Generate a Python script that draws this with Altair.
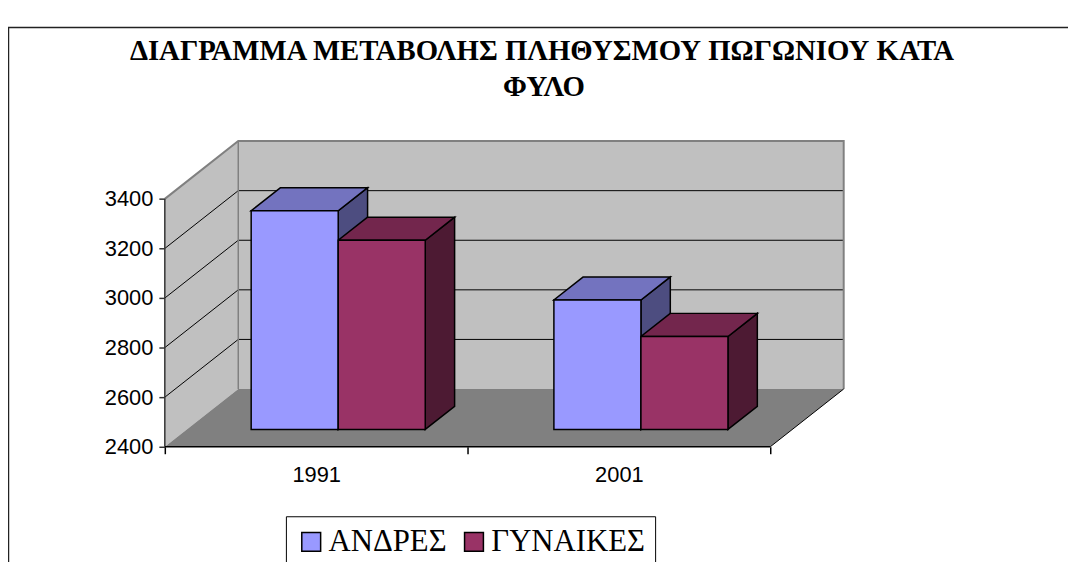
import altair as alt
import pandas as pd

# ---------------- data ----------------
years = ["1991", "2001"]
series = ["ΑΝΔΡΕΣ", "ΓΥΝΑΙΚΕΣ"]
men = [3282, 2922]
women = [3163, 2775]
y_ticks = [2400, 2600, 2800, 3000, 3200, 3400]
title_lines = ["ΔΙΑΓΡΑΜΜΑ ΜΕΤΑΒΟΛΗΣ ΠΛΗΘΥΣΜΟΥ ΠΩΓΩΝΙΟΥ ΚΑΤΑ", "ΦΥΛΟ"]

front_colors = ["#9999FF", "#993366"]
top_colors = ["#7373BF", "#73264D"]
side_colors = ["#4D4D80", "#4D1A33"]

# ---------------- 3-D style constants ----------------
Y_MIN, Y_MAX = y_ticks[0], y_ticks[-1]
DX = 0.2426      # depth shift, x units (categories)
DY = 233         # depth shift, value units
D0, D1 = 0.3, 0.7
GROUP = 0.575
BAR = GROUP / 2
NCAT = len(years)

W, H = 684, 308
XS = alt.Scale(domain=[0, NCAT + DX], nice=False, zero=False, padding=0)
YS = alt.Scale(domain=[Y_MIN, Y_MAX + DY], nice=False, zero=False, padding=0)

label_expr = " : ".join(
    [f"datum.value == {i + 0.5} ? '{y}'" for i, y in enumerate(years)]) + " : ''"
XAXIS = alt.Axis(values=[k / 2 for k in range(2 * NCAT + 1)], labelExpr=label_expr,
                 domain=False, grid=False, title=None, tickColor="black", tickSize=7,
                 tickWidth=1.5,
                 tickOpacity={"condition": {"test": "datum.value % 1 != 0", "value": 0}, "value": 1},
                 labelFont="Liberation Sans", labelFontSize=22, labelColor="black",
                 labelPadding=11, labelAngle=0)
YAXIS = alt.Axis(values=y_ticks, format="d", domain=False, grid=False, title=None,
                 tickColor="#333", tickSize=6, tickWidth=1.5, labelFont="Liberation Sans",
                 labelFontSize=22, labelColor="black", labelPadding=6)


def X(f):
    return alt.X(f, type="quantitative", scale=XS, axis=XAXIS)


def Y(f):
    return alt.Y(f, type="quantitative", scale=YS, axis=YAXIS)


# ---------------- geometry tables ----------------
front, tops, sides = [], [], []
for i, yr in enumerate(years):
    for j, (s, vals) in enumerate(zip(series, [men, women])):
        v = vals[i]
        x0 = i + (1 - GROUP) / 2 + j * BAR
        x1 = x0 + BAR
        bid = f"{yr}-{j}"
        front.append(dict(bar=bid, series=s, year=yr, value=v,
                          x=x0 + D0 * DX, x2=x1 + D0 * DX,
                          y=Y_MIN + D0 * DY, y2=v + D0 * DY))
        for d in (D0, D1):
            tops.append(dict(bar=bid, fill=top_colors[j], y=v + d * DY,
                             x=x0 + d * DX, x2=x1 + d * DX))
            sides.append(dict(bar=bid, fill=side_colors[j], x=x1 + d * DX,
                              y=Y_MIN + d * DY, y2=v + d * DY))

back_wall = pd.DataFrame([dict(x=DX, x2=NCAT + DX, y=Y_MIN + DY, y2=Y_MAX + DY)])
left_wall = pd.DataFrame([dict(x=0, y=Y_MIN, y2=Y_MAX), dict(x=DX, y=Y_MIN + DY, y2=Y_MAX + DY)])
floor = pd.DataFrame([dict(y=Y_MIN, x=0, x2=NCAT), dict(y=Y_MIN + DY, x=DX, x2=NCAT + DX)])

lines = []
for v in y_ticks[1:-1]:
    pts = [(0, v), (DX, v + DY), (NCAT + DX, v + DY)]
    for k, (px, py) in enumerate(pts):
        lines.append(dict(id=f"g{v}", ord=k, x=px, y=py, c="black", w=1))
edges = {
    "top": ("#808080", 2, [(0, Y_MAX), (DX, Y_MAX + DY), (NCAT + DX, Y_MAX + DY), (NCAT + DX, Y_MIN + DY)]),
    "backleft": ("#808080", 1.5, [(DX, Y_MAX + DY), (DX, Y_MIN + DY)]),
    "floorright": ("black", 1, [(NCAT, Y_MIN), (NCAT + DX, Y_MIN + DY)]),
}
for key, (c, w, pts) in edges.items():
    for k, (px, py) in enumerate(pts):
        lines.append(dict(id=key, ord=k, x=px, y=py, c=c, w=w))

axis_rules = pd.DataFrame([
    dict(x=0, x2=0, y=Y_MIN, y2=Y_MAX, c="#333333"),
    dict(x=0, x2=NCAT, y=Y_MIN, y2=Y_MIN, c="black"),
])

# ---------------- layers ----------------
one = pd.DataFrame([{"k": 1}])
border_left = alt.Chart(one).mark_rule(color="#222", strokeWidth=1.5).encode(
    x=alt.value(-157.5), y=alt.value(-114.5), y2=alt.value(H + 200))
border_top = alt.Chart(one).mark_rule(color="#222", strokeWidth=1.5).encode(
    x=alt.value(-158), x2=alt.value(W + 300), y=alt.value(-114.5))

title_style = dict(font="Liberation Serif", fontSize=29, fontWeight="bold", color="black",
                   align="center", baseline="alphabetic")
title1 = alt.Chart(one).mark_text(text=title_lines[0], **title_style).encode(
    x=alt.value(380), y=alt.value(-82))
title2 = alt.Chart(one).mark_text(text=title_lines[1], **title_style).encode(
    x=alt.value(382), y=alt.value(-45))

back = alt.Chart(back_wall).mark_rect(fill="#C0C0C0").encode(
    x=X("x"), x2="x2", y=Y("y"), y2="y2")
lwall = alt.Chart(left_wall).mark_area(fill="#C0C0C0", orient="vertical").encode(
    x=X("x"), y=Y("y"), y2="y2")
flr = alt.Chart(floor).mark_area(fill="#808080", orient="horizontal").encode(
    y=Y("y"), x=X("x"), x2="x2")
grid = alt.Chart(pd.DataFrame(lines)).mark_line().encode(
    x=X("x"), y=Y("y"), detail="id:N", order="ord:Q",
    stroke=alt.Stroke("c:N", scale=None), strokeWidth=alt.StrokeWidth("w:Q", scale=None))
axl = alt.Chart(axis_rules).mark_rule(strokeWidth=1.5).encode(
    x=X("x"), x2="x2", y=Y("y"), y2="y2", color=alt.Color("c:N", scale=None))

side = alt.Chart(pd.DataFrame(sides)).mark_area(
    stroke="black", strokeWidth=1.5, orient="vertical", strokeJoin="miter").encode(
    x=X("x"), y=Y("y"), y2="y2", detail="bar:N", fill=alt.Fill("fill:N", scale=None))
top = alt.Chart(pd.DataFrame(tops)).mark_area(
    stroke="black", strokeWidth=1.5, orient="horizontal", strokeJoin="miter").encode(
    y=Y("y"), x=X("x"), x2="x2", detail="bar:N", fill=alt.Fill("fill:N", scale=None))
fr = alt.Chart(pd.DataFrame(front)).mark_rect(stroke="black", strokeWidth=1.5, opacity=1).encode(
    x=X("x"), x2="x2", y=Y("y"), y2="y2",
    color=alt.Color("series:N", sort=series,
                    scale=alt.Scale(domain=series, range=front_colors),
                    legend=alt.Legend(orient="none", legendX=122, legendY=378,
                                      direction="horizontal", title=None,
                                      symbolType="square", symbolSize=361,
                                      symbolStrokeColor="black", symbolStrokeWidth=1.5,
                                      symbolOpacity=1,
                                      labelFont="Liberation Serif", labelFontSize=31,
                                      labelColor="black", labelOffset=2,
                                      columnPadding=12, padding=10,
                                      strokeColor="black", fillColor="white",
                                      labelLimit=400)),
    tooltip=["year:N", "series:N", "value:Q"])

chart = alt.layer(border_left, border_top, title1, title2, back, lwall, flr, grid, axl,
                  side, top, fr).properties(
    width=W, height=H,
    autosize=alt.AutoSizeParams(type="none"),
    padding={"left": 158, "top": 132, "right": 1068 - 158 - W, "bottom": 554 - 132 - H},
    background="white",
).configure_view(stroke=None)

chart.save("out.html", embed_options={"renderer": "svg", "actions": False})
